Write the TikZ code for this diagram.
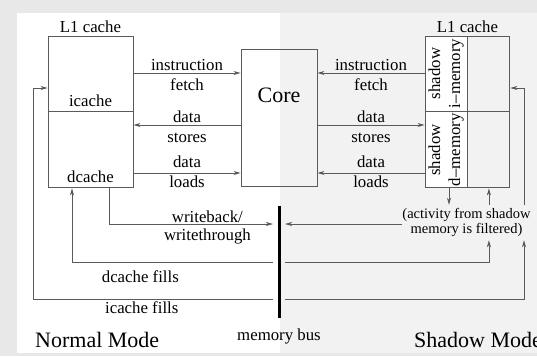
\documentclass[tikz,border=0pt]{standalone}
\usepackage{fontspec}
\setmainfont{Liberation Serif}
\usetikzlibrary{arrows.meta,positioning}
\definecolor{framegray}{HTML}{E8E8E8}
\definecolor{shadowbg}{HTML}{F2F2F2}
\definecolor{linegray}{HTML}{5A5A5A}

\begin{document}
\begin{tikzpicture}[x=1pt, y=-1pt,
    every node/.append style={font=\fontsize{16.8}{18}\selectfont, inner sep=2pt},
    cell/.style={draw=linegray, line width=0.9pt, minimum width=85, inner sep=0},
    halfcell/.style={draw=linegray, line width=0.9pt, minimum width=42, minimum height=75, inner sep=0},
    flow/.style={draw=linegray, line width=0.8pt, -{Stealth[length=7pt,width=4pt,inset=2pt]}},
    wire/.style={draw=linegray, line width=0.8pt},
    abovetxt/.style={anchor=base, yshift=#1}, abovetxt/.default=3pt,
    belowtxt/.style={anchor=base, yshift=-#1}, belowtxt/.default=17pt,
    bigtxt/.style={font=\fontsize{22}{24}\selectfont},
    smalltxt/.style={font=\fontsize{14.5}{14.5}\selectfont}]
  % panels
  \fill[framegray] (0,0) rectangle (537,356);
  \fill[white] (17,13) rectangle (280,353);
  \fill[shadowbg] (280,13) rectangle (537,353);
  \useasboundingbox (0,0) rectangle (537,356);

  % rows of the connectors
  \coordinate (rowif) at (0,73);
  \coordinate (rowifill) at (0,88);
  \coordinate (rowds) at (0,125);
  \coordinate (rowdl) at (0,173);
  \coordinate (rowwb) at (0,224);
  \coordinate (rowdf) at (0,262);
  \coordinate (rowicf) at (0,299);
  \coordinate (lrail) at (33.5,0);
  \coordinate (rrail) at (524,0);

  % normal mode cache
  \node[cell, minimum height=75] (icache) at (90.5,73.5) {};
  \node[cell, minimum height=76, anchor=north] (dcache) at (icache.south) {};
  \node[above=1pt of icache.north] (lcachetxt) {L1 cache};
  \node[above=3pt of icache.south] (icachetxt) {icache};
  \node[above=3pt of dcache.south] (dcachetxt) {dcache};

  % core
  \node[cell, minimum width=76, minimum height=137] (core) at (279,117.5) {};
  \node[bigtxt, below=37pt of core.north] (coretxt) {Core};

  % shadow mode cache
  \node[halfcell, fill=white] (simem) at (446,73.5) {};
  \node[halfcell, right=0pt of simem] (simfree) {};
  \node[halfcell, fill=white, minimum height=76, below=0pt of simem] (sdmem) {};
  \node[halfcell, minimum height=76, below=0pt of simfree] (sdfree) {};
  \node[above=1pt of simem.north east] (rcachetxt) {L1 cache};
  \node[rotate=90, align=center, inner sep=0, font=\fontsize{16.8}{20}\selectfont] (simemtxt) at (simem.center) {shadow\\i–memory};
  \node[rotate=90, align=center, inner sep=0, font=\fontsize{16.8}{20}\selectfont] (sdmemtxt) at (sdmem.center) {shadow\\d–memory};

  % memory bus
  \node[fill=black, minimum width=3, minimum height=112, inner sep=0, outer xsep=4.5pt, outer ysep=0] (bus) at (279,262) {};
  \node[anchor=base, yshift=-22pt] (bustxt) at (bus.south) {memory bus};

  \node[smalltxt, align=center, inner xsep=0, minimum height=35] (filt) at (466.5,222.5) {(activity from shadow\\memory is filtered)};

  \node[bigtxt, anchor=base west] (normaltxt) at (33,347) {Normal Mode};
  \node[bigtxt, anchor=base west] (shadowtxt) at (412,347) {Shadow Mode};

  % normal mode connectors
  \draw[flow] (icache.east |- rowif) -- node[abovetxt] (ifa) {instruction} node[belowtxt] (ifb) {fetch} (core.west |- rowif);
  \draw[flow] (core.west |- rowds) -- node[abovetxt] (dsa) {data} node[belowtxt] (dsb) {stores} (dcache.east |- rowds);
  \draw[flow] (dcache.east |- rowdl) -- node[abovetxt=6pt] (dla) {data} node[belowtxt=14pt] (dlb) {loads} (core.west |- rowdl);
  \draw[flow] ([xshift=18.5pt]dcache.south) |- node[pos=0.8, abovetxt=2pt] (wba) {writeback/} node[pos=0.8, belowtxt=16pt] (wbb) {writethrough} (bus.west |- rowwb);
  \draw[flow] (bus.west |- rowdf) -| node[pos=0.33, belowtxt=20pt] (dft) {dcache fills} ([xshift=-18.5pt]dcache.south);
  \draw[flow] (bus.west |- rowicf) -| node[pos=0.274, belowtxt=14pt] (ift) {icache fills} (lrail |- rowifill) -- (icache.west |- rowifill);

  % shadow mode connectors
  \draw[flow] (simem.west |- rowif) -- node[abovetxt] (sifa) {instruction} node[belowtxt] (sifb) {fetch} (core.east |- rowif);
  \draw[flow] (core.east |- rowds) -- node[abovetxt] (sdsa) {data} node[belowtxt] (sdsb) {stores} (sdmem.west |- rowds);
  \draw[flow] (sdmem.west |- rowdl) -- node[abovetxt=6pt] (sdla) {data} node[belowtxt=14pt] (sdlb) {loads} (core.east |- rowdl);
  \draw[flow] ([xshift=3pt]sdmem.south) -- ([xshift=3pt]sdmem.south |- filt.north);
  \draw[flow] (sdfree.south |- filt.north) -- (sdfree.south);
  \draw[flow] (filt.west |- rowwb) -- (bus.east |- rowwb);
  \draw[flow] (bus.east |- rowdf) -| (sdfree.south |- filt.south);
  \draw[flow] (bus.east |- rowicf) -| (rrail |- filt.south);
  \draw[flow] (rrail |- filt.north) |- (simfree.east |- rowifill);
\end{tikzpicture}
\end{document}
